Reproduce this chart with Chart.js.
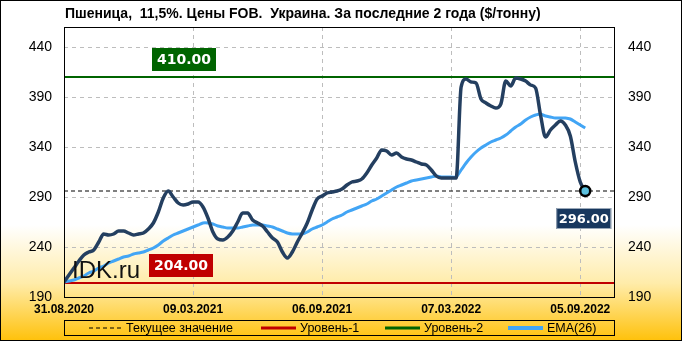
<!DOCTYPE html>
<html>
<head>
<meta charset="utf-8">
<script src="https://cdn.jsdelivr.net/npm/chart.js@4.4.0/dist/chart.umd.min.js"></script>
<style>
  html, body { margin: 0; padding: 0; background: #fff; }
  canvas { display: block; }
</style>
</head>
<body>
<canvas id="wheatChart" width="682" height="341"></canvas>
<script>
// weekly FOB prices, $/t
const prices = [
  205, 212, 219, 226, 232, 235, 237, 245, 253, 252,
  253, 256, 256, 254, 252, 253, 254, 258, 264, 275,
  289, 296, 290, 284, 282, 283, 285, 285, 280, 269,
  255, 248, 247, 250, 256, 265, 274, 274, 267, 264,
  261, 255, 249, 245, 235, 229, 235, 245, 254, 264,
  277, 288, 291, 294, 295, 296, 298, 302, 305, 306,
  308, 314, 322, 329, 337, 336, 332, 334, 330, 328,
  327, 325, 323, 322, 317, 311, 309, 309, 309, 309,
  400, 408, 405, 404, 388, 384, 381, 379, 383, 406,
  401, 409, 408, 406, 402, 399, 372, 350, 357, 362,
  366, 362, 351, 325, 305, 296
];

const ema26 = [
  205, 206, 207, 209, 211, 214, 216, 219, 221, 224,
  226, 228, 230, 231, 233, 234, 235, 237, 239, 242,
  246, 249, 252, 254, 256, 258, 260, 262, 264, 264,
  263, 261, 260, 259, 259, 259, 260, 261, 262, 262,
  262, 261, 260, 258, 256, 254, 253, 253, 253, 255,
  258, 260, 262, 265, 268, 270, 272, 275, 277, 279,
  281, 283, 286, 288, 291, 294, 297, 300, 302, 304,
  306, 307, 308, 309, 310, 311, 310, 310, 310, 310,
  317, 324, 330, 335, 339, 342, 345, 347, 349, 352,
  356, 360, 363, 367, 370, 372, 373, 371, 370, 369,
  369, 369, 368, 365, 362, 359
];

const level1 = 204;
const level2 = 410;
const currentValue = 296;

const xTickPos = [0, 26, 52, 78, 104];
const xTickLabels = ["31.08.2020", "09.03.2021", "06.09.2021", "07.03.2022", "05.09.2022"];
const yTicks = [190, 240, 290, 340, 390, 440];

const X_MAX = 111;
const lastIdx = prices.length - 1;

function toPoints(arr) {
  return arr.map((v, i) => ({ x: i, y: v }));
}
function flat(v) {
  return [{ x: 0, y: v }, { x: X_MAX, y: v }];
}

const bgPlugin = {
  id: "bg",
  beforeDraw(chart) {
    const { ctx, width, height } = chart;
    const g = ctx.createLinearGradient(0, 0, 0, height);
    g.addColorStop(0, "#ffffff");
    g.addColorStop(0.66, "#ffffff");
    g.addColorStop(0.83, "#ffecaa");
    g.addColorStop(1, "#ffc10a");
    ctx.save();
    ctx.fillStyle = g;
    ctx.fillRect(0, 0, width, height);
    ctx.restore();
  }
};

function labelBox(ctx, text, x, y, w, h, fill, font, stroke) {
  ctx.fillStyle = fill;
  ctx.fillRect(x, y, w, h);
  if (stroke) {
    ctx.strokeStyle = stroke;
    ctx.lineWidth = 1;
    ctx.strokeRect(x + 0.5, y + 0.5, w - 1, h - 1);
  }
  ctx.fillStyle = "#fff";
  ctx.font = font;
  ctx.textAlign = "center";
  ctx.textBaseline = "middle";
  ctx.fillText(text, x + w / 2, y + h / 2 + 1);
}

const decorPlugin = {
  id: "decor",
  afterDatasetsDraw(chart) {
    const { ctx, chartArea: a, scales } = chart;
    const y = scales.y, x = scales.x;
    ctx.save();

    // watermark
    ctx.fillStyle = "#111";
    ctx.font = "24px 'Liberation Sans', Arial, sans-serif";
    ctx.textAlign = "left";
    ctx.textBaseline = "alphabetic";
    ctx.fillText("IDK.ru", a.left + 8, 278);

    // level labels
    const y2 = y.getPixelForValue(level2);
    labelBox(ctx, level2.toFixed(2), a.left + 88, y2 - 29, 64, 23, "#006400", "bold 14px 'DejaVu Sans', Verdana, sans-serif");
    const y1 = y.getPixelForValue(level1);
    labelBox(ctx, level1.toFixed(2), a.left + 85, y1 - 29, 64, 23, "#c00000", "bold 14px 'DejaVu Sans', Verdana, sans-serif");

    // current value label
    const px = x.getPixelForValue(lastIdx);
    const py = y.getPixelForValue(prices[lastIdx]);
    labelBox(ctx, prices[lastIdx].toFixed(2), px - 29, py + 17, 55, 21, "#17375e", "bold 13px 'DejaVu Sans', Verdana, sans-serif", "#9aa8b8");

    // plot frame
    ctx.strokeStyle = "#000";
    ctx.lineWidth = 1;
    ctx.strokeRect(Math.round(a.left) + 0.5, Math.round(a.top) + 0.5, Math.round(a.right - a.left) - 1, Math.round(a.bottom - a.top));
    ctx.restore();
  },
  afterDraw(chart) {
    const { ctx, width, height, chartArea: a } = chart;
    ctx.save();

    // title
    ctx.fillStyle = "#000";
    ctx.font = "bold 14px 'Liberation Sans', Arial, sans-serif";
    ctx.textAlign = "left";
    ctx.textBaseline = "middle";
    ctx.fillText("Пшеница,  11,5%. Цены FOB.  Украина. За последние 2 года ($/тонну)", 65, 14);

    // legend
    const ly = 320, lh = 15;
    ctx.strokeStyle = "#000";
    ctx.lineWidth = 1;
    ctx.strokeRect(Math.round(a.left) + 0.5, ly + 0.5, Math.round(a.right - a.left) - 1, lh);
    const cy = ly + lh / 2 + 0.5;
    const items = [
      { text: "Текущее значение", x0: 89, x1: 122, color: "#000", w: 1, dash: [4, 3] },
      { text: "Уровень-1", x0: 261, x1: 296, color: "#c00000", w: 3, dash: [] },
      { text: "Уровень-2", x0: 385, x1: 420, color: "#006400", w: 3, dash: [] },
      { text: "EMA(26)", x0: 508, x1: 543, color: "#42a5f5", w: 4, dash: [] }
    ];
    ctx.font = "12.5px 'Liberation Sans', Arial, sans-serif";
    ctx.textBaseline = "middle";
    items.forEach(it => {
      ctx.beginPath();
      ctx.setLineDash(it.dash);
      ctx.strokeStyle = it.color;
      ctx.lineWidth = it.w;
      ctx.moveTo(it.x0, cy);
      ctx.lineTo(it.x1, cy);
      ctx.stroke();
      ctx.setLineDash([]);
      ctx.fillStyle = "#000";
      ctx.fillText(it.text, it.x1 + 4, cy + 1);
    });

    // outer border
    ctx.strokeStyle = "#000";
    ctx.lineWidth = 1;
    ctx.strokeRect(0.5, 0.5, width - 1, height - 1);
    ctx.restore();
  }
};

const yAxisBase = {
  type: "linear",
  min: 190,
  max: 460,
  afterBuildTicks: s => { s.ticks = yTicks.map(v => ({ value: v })); },
  ticks: {
    color: "#000",
    font: { family: "'Liberation Sans', Arial, sans-serif", size: 14 }
  }
};

new Chart(document.getElementById("wheatChart"), {
  type: "line",
  data: {
    datasets: [
      {
        label: "EMA(26)",
        data: toPoints(ema26),
        borderColor: "#42a5f5",
        borderWidth: 3,
        pointRadius: 0,
        tension: 0.3,
        order: 0
      },
      {
        label: "Цена",
        data: toPoints(prices),
        borderColor: "#243f60",
        borderWidth: 3.5,
        tension: 0.2,
        cubicInterpolationMode: "monotone",
        pointRadius: c => (c.dataIndex === lastIdx ? 5 : 0),
        pointBackgroundColor: "#5bc0de",
        pointBorderColor: "#000",
        pointBorderWidth: 2.5,
        order: -1
      },
      {
        label: "Текущее значение",
        data: flat(currentValue),
        borderColor: "#000",
        borderWidth: 1,
        borderDash: [4, 3],
        pointRadius: 0,
        order: 2
      },
      {
        label: "Уровень-1",
        data: flat(level1),
        borderColor: "#c00000",
        borderWidth: 2,
        pointRadius: 0,
        order: 3
      },
      {
        label: "Уровень-2",
        data: flat(level2),
        borderColor: "#006400",
        borderWidth: 2,
        pointRadius: 0,
        order: 3
      }
    ]
  },
  options: {
    responsive: false,
    animation: false,
    devicePixelRatio: 1,
    layout: { padding: { top: 27, left: 0, right: 0, bottom: 0 } },
    plugins: {
      legend: { display: false },
      tooltip: { enabled: false }
    },
    scales: {
      x: {
        type: "linear",
        min: 0,
        max: X_MAX,
        afterBuildTicks: s => { s.ticks = xTickPos.map(v => ({ value: v })); },
        afterFit: s => { s.height = 44; },
        ticks: {
          callback: v => xTickLabels[xTickPos.indexOf(v)],
          color: "#000",
          font: { family: "'Liberation Sans', Arial, sans-serif", size: 12, weight: "bold" },
          maxRotation: 0,
          autoSkip: false,
          padding: 5
        },
        grid: { color: "#bdbdbd", drawTicks: false },
        border: { display: false, dash: [4, 4] }
      },
      y: {
        ...yAxisBase,
        position: "left",
        afterFit: s => { s.width = 64; },
        ticks: { ...yAxisBase.ticks, padding: 12 },
        grid: { color: "#bdbdbd", drawTicks: false },
        border: { display: false, dash: [4, 4] }
      },
      y2: {
        ...yAxisBase,
        position: "right",
        afterFit: s => { s.width = 67; },
        ticks: { ...yAxisBase.ticks, padding: 13 },
        grid: { display: false, drawTicks: false },
        border: { display: false }
      }
    }
  },
  plugins: [bgPlugin, decorPlugin]
});
</script>
</body>
</html>
